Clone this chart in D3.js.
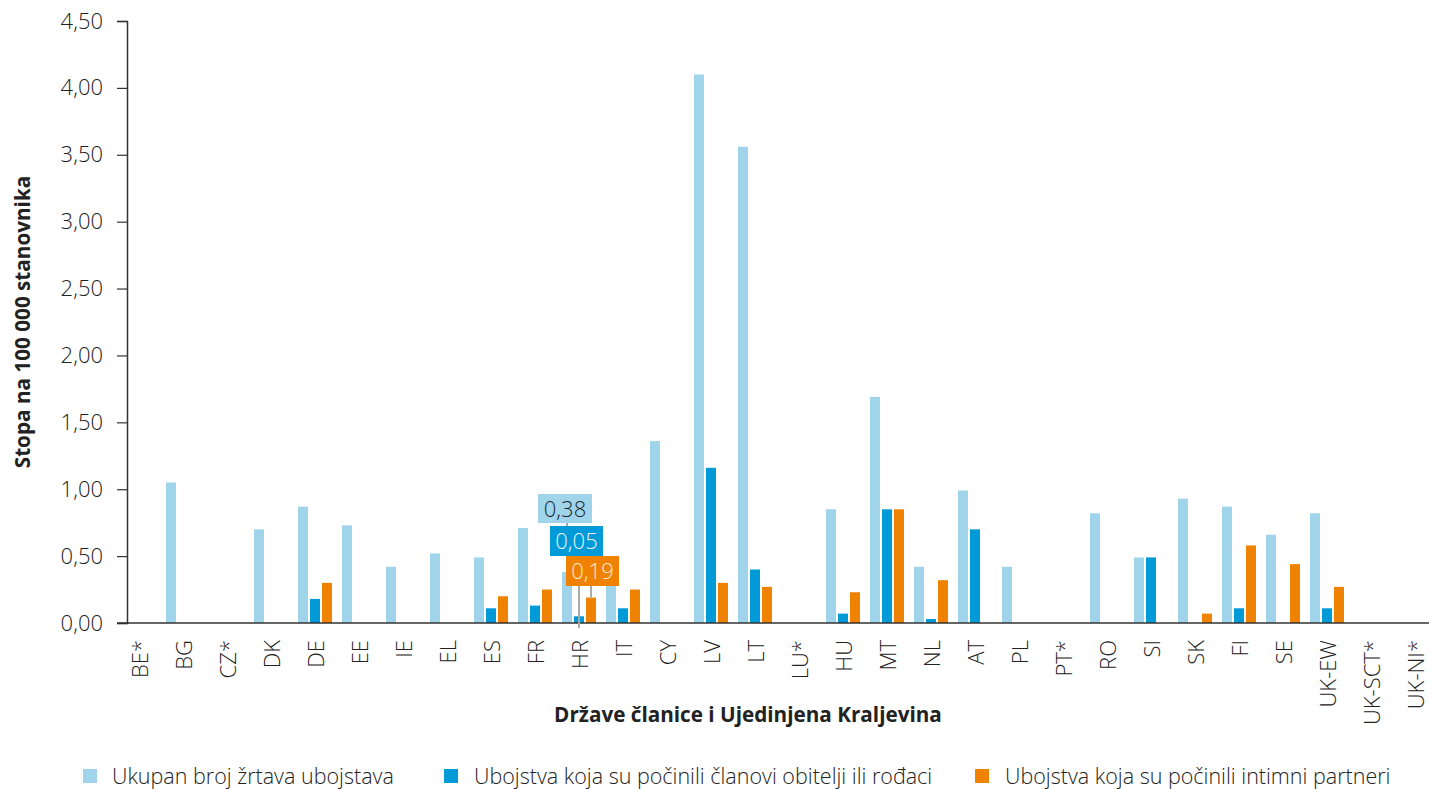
<!DOCTYPE html>
<html>
<head>
<meta charset="utf-8">
<script src="https://cdn.jsdelivr.net/npm/d3@7"></script>
<style>
  html, body { margin: 0; padding: 0; background: #fff; }
  svg { display: block; font-family: "Open Sans", sans-serif; }
</style>
</head>
<body>
<svg id="chart"></svg>
<script>
// Data
const countries = ['BE*', 'BG', 'CZ*', 'DK', 'DE', 'EE', 'IE', 'EL', 'ES', 'FR', 'HR', 'IT', 'CY', 'LV', 'LT', 'LU*',
  'HU', 'MT', 'NL', 'AT', 'PL', 'PT*', 'RO', 'SI', 'SK', 'FI', 'SE', 'UK-EW', 'UK-SCT*', 'UK-NI*'];
const totalVictims = [null, 1.05, null, 0.70, 0.87, 0.73, 0.42, 0.52, 0.49, 0.71, 0.38, 0.46, 1.36, 4.10, 3.56, null,
  0.85, 1.69, 0.42, 0.99, 0.42, null, 0.82, 0.49, 0.93, 0.87, 0.66, 0.82, null, null];
const familyKillings = [null, null, null, null, 0.18, null, null, null, 0.11, 0.13, 0.05, 0.11, null, 1.16, 0.40, null,
  0.07, 0.85, 0.03, 0.70, null, null, null, 0.49, null, 0.11, null, 0.11, null, null];
const partnerKillings = [null, null, null, null, 0.30, null, null, null, 0.20, 0.25, 0.19, 0.25, null, 0.30, 0.27, null,
  0.23, 0.85, 0.32, null, null, null, null, null, 0.07, 0.58, 0.44, 0.27, null, null];
const seriesNames = [
  'Ukupan broj žrtava ubojstava',
  'Ubojstva koja su počinili članovi obitelji ili rođaci',
  'Ubojstva koja su počinili intimni partneri'
];
const yTicks = [0, 0.5, 1, 1.5, 2, 2.5, 3, 3.5, 4, 4.5];
const highlighted = 'HR';

const COLORS = ['#9fd4ea', '#009ad8', '#ef8200'];
const TEXT = '#222';
const FS = 22;       // light text size
const FS_LEGEND = 21.5;
const FS_BOLD = 20.7;

const width = 1429, height = 789;
const svg = d3.select('#chart').attr('width', width).attr('height', height);

const locale = d3.formatLocale({ decimal: ',', thousands: ' ', grouping: [3], currency: ['', ''] });
const fmt = locale.format('.2f');

// Scales
const x0 = d3.scaleBand().domain(countries).range([117, 1437]).padding(0);
const x1 = d3.scaleBand().domain(d3.range(3)).range([5, x0.bandwidth() - 5]).paddingInner(2 / 12);
const y = d3.scaleLinear().domain([0, 4.5]).range([623, 21]);

// Y axis
const yAxis = svg.append('g')
  .attr('transform', 'translate(127,0)')
  .call(d3.axisLeft(y).tickValues(yTicks).tickFormat(fmt).tickSize(10).tickPadding(14));
yAxis.select('.domain').attr('stroke', '#333').attr('stroke-width', 1.5);
yAxis.selectAll('.tick line').attr('stroke', '#333').attr('stroke-width', 1.2);
yAxis.selectAll('.tick text').attr('font-size', FS).attr('font-weight', 300).attr('fill', TEXT)
  .attr('font-family', '"Open Sans", sans-serif');

svg.append('text')
  .attr('transform', `translate(30, ${y(2.25)}) rotate(-90)`)
  .attr('text-anchor', 'middle')
  .attr('font-size', FS_BOLD).attr('font-weight', 700).attr('fill', TEXT)
  .text('Stopa na 100 000 stanovnika');

// Bars
const rows = countries.map((c, i) => ({
  country: c,
  values: [totalVictims[i], familyKillings[i], partnerKillings[i]]
}));

const groups = svg.append('g').selectAll('g')
  .data(rows)
  .join('g')
  .attr('transform', d => `translate(${x0(d.country)},0)`);

groups.selectAll('rect')
  .data(d => d.values.map((v, k) => ({ v, k })).filter(e => e.v != null))
  .join('rect')
  .attr('x', e => x1(e.k))
  .attr('width', x1.bandwidth())
  .attr('y', e => y(e.v))
  .attr('height', e => y(0) - y(e.v))
  .attr('fill', e => COLORS[e.k]);

// X axis
svg.append('line')
  .attr('x1', 117).attr('x2', width)
  .attr('y1', y(0)).attr('y2', y(0))
  .attr('stroke', '#333').attr('stroke-width', 1.5);

svg.append('g').selectAll('text')
  .data(countries)
  .join('text')
  .attr('transform', d => `translate(${x0(d) + x0.bandwidth() / 2 + 9}, 640) rotate(-90)`)
  .attr('text-anchor', 'end')
  .attr('font-size', FS).attr('font-weight', 300).attr('fill', TEXT)
  .text(d => d);

svg.append('text')
  .attr('x', 748).attr('y', 722)
  .attr('text-anchor', 'middle')
  .attr('font-size', FS_BOLD).attr('font-weight', 700).attr('fill', TEXT)
  .text('Države članice i Ujedinjena Kraljevina');

// Hover labels for HR
const hi = countries.indexOf(highlighted);
const hiVals = [totalVictims[hi], familyKillings[hi], partnerKillings[hi]];
const boxes = [
  { x: 538, y: 494, w: 54, h: 29 },
  { x: 550, y: 526, w: 53, h: 30 },
  { x: 566, y: 556, w: 53, h: 30 }
];
const tip = svg.append('g');
const barCx = k => x0(highlighted) + x1(k) + x1.bandwidth() / 2;
// leader lines
tip.append('line').attr('x1', barCx(0)).attr('x2', barCx(0))
  .attr('y1', boxes[0].y + boxes[0].h).attr('y2', y(hiVals[0])).attr('stroke', '#aaa').attr('stroke-width', 2);
tip.append('line').attr('x1', barCx(1)).attr('x2', barCx(1))
  .attr('y1', boxes[1].y + boxes[1].h).attr('y2', y(0) + 5).attr('stroke', '#aaa').attr('stroke-width', 2);
tip.append('line').attr('x1', barCx(2)).attr('x2', barCx(2))
  .attr('y1', boxes[2].y + boxes[2].h).attr('y2', y(hiVals[2])).attr('stroke', '#aaa').attr('stroke-width', 2);

boxes.forEach((b, k) => {
  tip.append('rect').attr('x', b.x).attr('y', b.y).attr('width', b.w).attr('height', b.h).attr('fill', COLORS[k]);
  tip.append('text')
    .attr('x', b.x + b.w / 2).attr('y', b.y + b.h / 2 + 8)
    .attr('text-anchor', 'middle')
    .attr('font-size', FS).attr('font-weight', 300)
    .attr('fill', k === 0 ? '#1a2a33' : (k === 1 ? '#e6f5fc' : '#fde8cf'))
    .text(fmt(hiVals[k]));
});

// Legend
const legendItems = [
  { x: 83, tx: 112 },
  { x: 444, tx: 474 },
  { x: 975, tx: 1005 }
];
const legend = svg.append('g');
seriesNames.forEach((name, k) => {
  legend.append('rect').attr('x', legendItems[k].x).attr('y', 769).attr('width', 14).attr('height', 14)
    .attr('fill', COLORS[k]);
  legend.append('text').attr('x', legendItems[k].tx).attr('y', 784)
    .attr('font-size', FS_LEGEND).attr('font-weight', 300).attr('fill', TEXT)
    .text(name);
});
</script>
</body>
</html>
